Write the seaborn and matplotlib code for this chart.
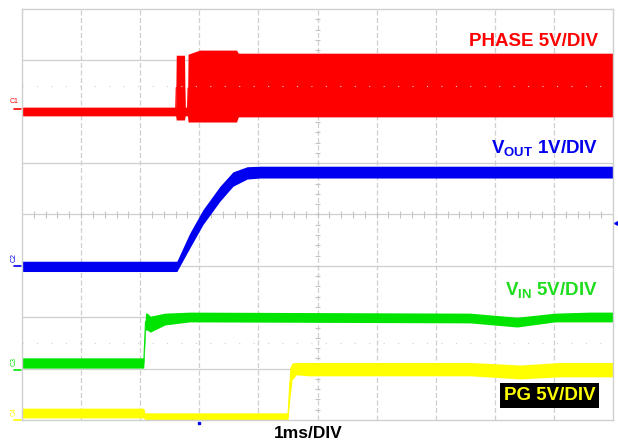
"""
Start-up scope capture: PHASE, VOUT, VIN and PG traces, 1ms/DIV.
"""
import matplotlib
matplotlib.use("Agg")
import matplotlib.pyplot as plt
import seaborn as sns
import pandas as pd
import numpy as np

sns.set_style("white")
plt.rcParams['font.family'] = ['Liberation Sans', 'DejaVu Sans']
plt.rcParams['mathtext.fontset'] = 'custom'
plt.rcParams['mathtext.rm'] = 'Liberation Sans:bold'
plt.rcParams['mathtext.bf'] = 'Liberation Sans:bold'

# Trace envelopes: time in ms, level in divisions (0..8)
phase_t = [0, 2.60, 2.61, 2.75, 2.76, 2.80, 2.81, 3.01, 3.63, 3.66, 10]
phase_hi = [6.09, 6.09, 7.10, 7.10, 6.09, 6.09, 7.12, 7.20, 7.20, 7.14, 7.14]
phase_lo = [5.92, 5.92, 5.84, 5.84, 5.92, 5.92, 5.80, 5.80, 5.80, 5.90, 5.90]

vout_t = [0, 2.62, 2.84, 3.06, 3.35, 3.57, 3.81, 4.03, 10]
vout_hi = [3.09, 3.09, 3.64, 4.09, 4.55, 4.83, 4.93, 4.94, 4.94]
vout_lo = [2.89, 2.89, 3.35, 3.80, 4.26, 4.55, 4.69, 4.71, 4.71]

vin_t = [0, 2.06, 2.09, 2.12, 2.17, 2.42, 2.84, 7.58, 8.38, 9.02, 9.61, 10]
vin_hi = [1.21, 1.21, 2.08, 2.08, 2.02, 2.08, 2.10, 2.08, 2.00, 2.08, 2.10, 2.10]
vin_lo = [1.01, 1.01, 1.75, 1.75, 1.71, 1.85, 1.91, 1.89, 1.81, 1.91, 1.91, 1.91]

pg_t = [0, 2.06, 2.08, 4.50, 4.53, 4.57, 4.64, 4.84, 7.58, 8.43, 9.10, 10]
pg_hi = [0.23, 0.23, 0.14, 0.14, 1.01, 1.11, 1.12, 1.12, 1.12, 1.07, 1.12, 1.12]
pg_lo = [0.04, 0.04, 0.00, 0.00, 0.39, 0.78, 0.88, 0.86, 0.86, 0.80, 0.84, 0.84]

RED = '#ff0000'
BLUE = '#0000f0'
GREEN = '#00e400'
YELLOW = '#ffff00'


def band_frame(t, lo, hi):
    """Long-form frame with the low and high edge for each time point."""
    t = np.asarray(t, dtype=float)
    return pd.DataFrame({'t': np.concatenate([t, t]),
                         'v': np.concatenate([lo, hi])})


fig = plt.figure(figsize=(6.18, 4.42), dpi=100)
ax = fig.add_axes([22 / 618, 22 / 442, 591 / 618, 411 / 442])
ax.set_xlim(0, 10)
ax.set_ylim(0, 8)

# Graticule
for x in range(1, 10):
    ax.axvline(x, color='#cfcfcf', lw=0.9, ls=(0, (4, 2)), zorder=0)
for y in range(1, 8):
    ax.axhline(y, color='#cfcfcf', lw=0.9, zorder=0)
for y in (1.5, 6.5):
    ax.axhline(y, color='#d2d2d2', lw=0.8, ls=(0, (1, 12)), zorder=5)
ax.hlines(np.arange(0.2, 8, 0.2), 4.95, 5.05, color='#c4c4c4', lw=0.8, zorder=0)
ax.vlines(np.arange(0.2, 10, 0.2), 3.94, 4.06, color='#c4c4c4', lw=0.8, zorder=0)
for s in ax.spines.values():
    s.set_color('#cfcfcf')
    s.set_linewidth(1.0)
ax.set_xticks([])
ax.set_yticks([])

traces = [
    (phase_t, phase_lo, phase_hi, RED),
    (vout_t, vout_lo, vout_hi, BLUE),
    (vin_t, vin_lo, vin_hi, GREEN),
    (pg_t, pg_lo, pg_hi, YELLOW),
]
for t, lo, hi, c in traces:
    sns.lineplot(data=band_frame(t, lo, hi), x='t', y='v', estimator='mean',
                 errorbar=lambda v: (v.min(), v.max()), color=c, linewidth=0.8,
                 err_kws={'alpha': 1, 'linewidth': 0}, ax=ax, legend=False,
                 zorder=2)
ax.set_xlabel('')
ax.set_ylabel('')

# Channel labels
kw = dict(transform=ax.transData, clip_on=False, fontweight='bold', fontsize=13.5)
ax.text(9.746, 7.28, 'PHASE 5V/DIV', color=RED, ha='right', va='baseline', **kw)
ax.text(9.746, 5.20, r'$\mathbf{V_{OUT}}$ 1V/DIV', color=BLUE, ha='right', va='baseline', **kw)
ax.text(9.746, 2.43, r'$\mathbf{V_{IN}}$ 5V/DIV', color='#1edc1e', ha='right', va='baseline', **kw)
ax.text(8.93, 0.39, 'PG 5V/DIV', color=YELLOW, ha='center', va='baseline',
        bbox=dict(facecolor='black', edgecolor='none', pad=2.5), **kw)
ax.text(4.84, -0.35, '1ms/DIV', color='black', ha='center', va='baseline',
        transform=ax.transData, clip_on=False, fontweight='bold', fontsize=12.5)

# Channel ground markers on the left edge
for name, y, c, rot in [('C1', 6.05, RED, 0), ('C2', 3.0, BLUE, 90),
                        ('C3', 0.97, GREEN, 90), ('C4', 0.0, YELLOW, 90)]:
    ax.text(-0.13, y + 0.08, name, color=c, fontsize=5, ha='center', va='bottom',
            rotation=rot, transform=ax.transData, clip_on=False)
    ax.plot([-0.13, -0.02], [y, y], color=c, lw=1.2, clip_on=False)

# Trigger markers
ax.plot([10.07], [3.83], marker='<', color=BLUE, markersize=5, clip_on=False)
ax.plot([3.0], [-0.05], marker='s', color=BLUE, markersize=2, clip_on=False)

fig.savefig('out.png', dpi=100, facecolor='white')
